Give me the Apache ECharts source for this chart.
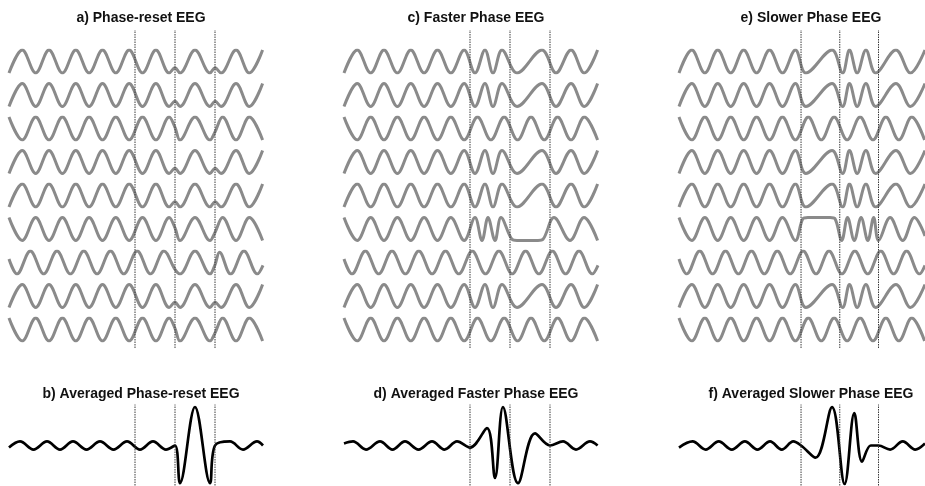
<!DOCTYPE html>
<html><head><meta charset="utf-8">
<script src="https://cdn.jsdelivr.net/npm/echarts@6/dist/echarts.min.js"></script>
<style>html,body{margin:0;padding:0;background:#fff}#c{width:925px;height:486px}</style>
</head><body><div id="c"></div>
<script>
// ---------- text ----------
const TITLES_TOP = ['a) Phase-reset EEG', 'c) Faster Phase EEG', 'e) Slower Phase EEG'];
const TITLES_BOTTOM = ['b) Averaged Phase-reset EEG', 'd) Averaged Faster Phase EEG', 'f) Averaged Slower Phase EEG'];

// ---------- event markers (time offset within each panel) ----------
const EVENT_LINES = [126, 166, 206];

// ---------- per-trial phase class (rows top to bottom) ----------
const ROW_PHASE = ['L', 'L', 'H', 'L', 'L', 'H', 'M', 'L', 'H'];
const ROW_EXTREME = 5; // row index with the strongest phase adjustment

// ---------- pre-stimulus segments: [time, amplitude] at peaks/troughs ----------
const PRE_L = [[0,-1],[13.3,1],[26.7,-1],[40,1],[53.4,-1],[66.8,1],[80.1,-1],[93.5,1],[106.8,-1],[120.2,1]];
const PRE_H = [[0,1],[13.3,-1],[26.7,1],[40,-1],[53.4,1],[66.8,-1],[80.1,1],[93.5,-1],[106.8,1],[120.2,-1]];
const PRE_M = [[0,0.31],[8,-1],[21.35,1],[34.7,-1],[48,1],[61.4,-1],[74.8,1],[88.1,-1],[101.5,1],[114.8,-1]];

// ---------- panel a (phase reset) post segments ----------
const A_POST_L = [[133.5,-1],[146.9,1],[160.2,-1],[166,-0.55],[171,-1],[186,1],[201,-1],[206,-0.55],[212,-1],[227,1],[240.3,-1],[253.6,1]];
const A_POST_H = [[133.5,1],[146.9,-1],[160.2,1],[166,0.1],[171,-1],[186,1],[201,-1],[206,-0.3],[213.6,1],[227,-1],[240.3,1],[253.6,-1]];
const A_POST_M = [[128.2,1],[141.5,-1],[154.9,1],[166,-0.6],[171,-1],[186,1],[201,-1],[206,-0.2],[210.5,0.9],[221.6,-1],[235,1],[248.3,-1],[254,-0.25]];

// ---------- panel c (faster phase) post segments ----------
const C_POST_L = [[131,-1],[141,1],[149,-1],[158,1],[173,-1],[198,1],[212,-1],[227,1],[240.3,-1],[253.6,1]];
const C_POST_H = [[133.5,1],[146.9,-1],[160.2,1],[173.6,-1],[187,1],[200.3,-1],[213.6,1],[227,-1],[240.3,1],[253.6,-1]];
const C_POST_X = [[131,1],[138,-1],[144,1],[151,-1],[157,1],[168,-0.9],[173,-1],[194,-1],[199,-0.9],[210,1],[226,-1],[240,1],[253.6,-1]];
const C_POST_M = [[128.2,1],[141.5,-1],[154.9,1],[168.2,-1],[181.6,1],[194.9,-1],[208.3,1],[221.6,-1],[235,1],[248.3,-1],[254,-0.25]];

// ---------- panel e (slower phase) post segments ----------
const E_POST_L = [[131,-1],[158,1],[169,-1],[176,1],[184,-1],[193,1],[203,-1],[224,1],[239,-1],[254,1]];
const E_POST_H = [[133.5,1],[146.9,-1],[160.2,1],[173.6,-1],[187,1],[200.3,-1],[213.6,1],[227,-1],[240.3,1],[253.6,-1]];
const E_POST_X = [[128,0.9],[133,1],[156,1],[161,0.9],[168,-1],[174,1],[181,-1],[188,1],[195,-1],[201,1],[206,-1],[218,1],[231,-1],[243,1],[254,-0.6]];
const E_POST_M = [[128.2,1],[141.5,-1],[154.9,1],[168.2,-1],[181.6,1],[194.9,-1],[208.3,1],[221.6,-1],[235,1],[248.3,-1],[254,-0.25]];

// ---------- averaged traces ----------
const B_AVG = [[0,-0.05],[11,0.1],[24.5,-0.1],[38,0.1],[51,-0.1],[64,0.1],[77.5,-0.1],[91,0.1],[104.5,-0.1],[118,0.1],[131,-0.1],[144,0.1],[157,-0.1],[166,0],[171,-0.93],[186,0.95],[201,-0.93],[206,0],[221,0.1],[234,-0.1],[248,0.1],[254,0]];
const D_AVG = [[0,0.05],[9,0.1],[22,-0.1],[36,0.1],[48.5,-0.1],[61,0.1],[74.5,-0.1],[88,0.1],[100.5,-0.1],[113,0.1],[126,-0.05],[143,0.43],[151,-0.8],[159,0.95],[174,-0.93],[191,0.3],[206,0],[219,0.1],[232,-0.1],[246,0.1],[253.6,0]];
const F_AVG = [[0,-0.05],[14,0.1],[27.5,-0.1],[41,0.1],[54.5,-0.1],[68,0.1],[81,-0.1],[94,0.1],[106,-0.1],[118,0.1],[126,0],[141,-0.3],[158,0.95],[171,-0.95],[181,0.8],[189,-0.4],[198,0],[206,0],[218,-0.1],[231,0.1],[244,-0.1],[254,0.05]];

// ---------- assembly ----------
const PRE = {L: PRE_L, H: PRE_H, M: PRE_M};
const POSTS = [
  {L: A_POST_L, H: A_POST_H, M: A_POST_M, X: A_POST_H},
  {L: C_POST_L, H: C_POST_H, M: C_POST_M, X: C_POST_X},
  {L: E_POST_L, H: E_POST_H, M: E_POST_M, X: E_POST_X}
];
const AVGS = [B_AVG, D_AVG, F_AVG];

const panelLeft = [9, 344, 679];
const panelWidth = 254;
const rowTop0 = 50, rowStep = 33.5, rowHeight = 23;

const grids = [], xAxes = [], yAxes = [], series = [];
function addGrid(left, top, height, ymin, ymax) {
  const i = grids.length;
  grids.push({left: left, top: top, width: panelWidth, height: height, containLabel: false});
  xAxes.push({gridIndex: i, type: 'value', min: 0, max: panelWidth, show: false});
  yAxes.push({gridIndex: i, type: 'value', min: ymin, max: ymax, show: false});
  return i;
}

for (let p = 0; p < 3; p++) {
  for (let r = 0; r < ROW_PHASE.length; r++) {
    const g = addGrid(panelLeft[p], rowTop0 + r * rowStep, rowHeight, -1, 1);
    const ph = ROW_PHASE[r];
    const postKey = (r === ROW_EXTREME) ? 'X' : ph;
    const data = PRE[ph].concat(POSTS[p][postKey]);
    series.push({
      type: 'line', xAxisIndex: g, yAxisIndex: g, data: data,
      showSymbol: false, smooth: 0.36, silent: true, animation: false,
      lineStyle: {color: '#8a8a8a', width: 3}, z: 2
    });
  }
  // event lines over the trials
  const gl = addGrid(panelLeft[p], 30, 318, 0, 1);
  EVENT_LINES.forEach(function (x) {
    series.push({
      type: 'line', xAxisIndex: gl, yAxisIndex: gl, data: [[x, 0], [x, 1]],
      showSymbol: false, silent: true, animation: false,
      lineStyle: {color: '#3a3a3a', width: 1, type: [1.5, 1]}, z: 3
    });
  });
  // averaged trace
  const ga = addGrid(panelLeft[p], 405, 81, -1, 1);
  series.push({
    type: 'line', xAxisIndex: ga, yAxisIndex: ga, data: AVGS[p],
    showSymbol: false, smooth: 0.36, silent: true, animation: false,
    lineStyle: {color: '#000', width: 2.7}, z: 2
  });
  EVENT_LINES.forEach(function (x) {
    series.push({
      type: 'line', xAxisIndex: ga, yAxisIndex: ga, data: [[x, -1.05], [x, 1.05]],
      showSymbol: false, silent: true, animation: false,
      lineStyle: {color: '#3a3a3a', width: 1, type: [1.5, 1]}, z: 3
    });
  });
}

const titles = [];
for (let p = 0; p < 3; p++) {
  const cx = panelLeft[p] + EVENT_LINES[0];
  titles.push({text: TITLES_TOP[p], left: cx + 1, top: 6, textAlign: 'center',
    textStyle: {fontFamily: 'Liberation Sans, Arial, sans-serif', fontWeight: 'bold', fontSize: 14, color: '#111'}});
  titles.push({text: TITLES_BOTTOM[p], left: cx + 1, top: 382, textAlign: 'center',
    textStyle: {fontFamily: 'Liberation Sans, Arial, sans-serif', fontWeight: 'bold', fontSize: 14, color: '#111'}});
}

const chart = echarts.init(document.getElementById('c'), null, {renderer: 'canvas'});
chart.setOption({
  backgroundColor: '#fff',
  animation: false,
  title: titles,
  grid: grids, xAxis: xAxes, yAxis: yAxes, series: series
});
</script></body></html>
